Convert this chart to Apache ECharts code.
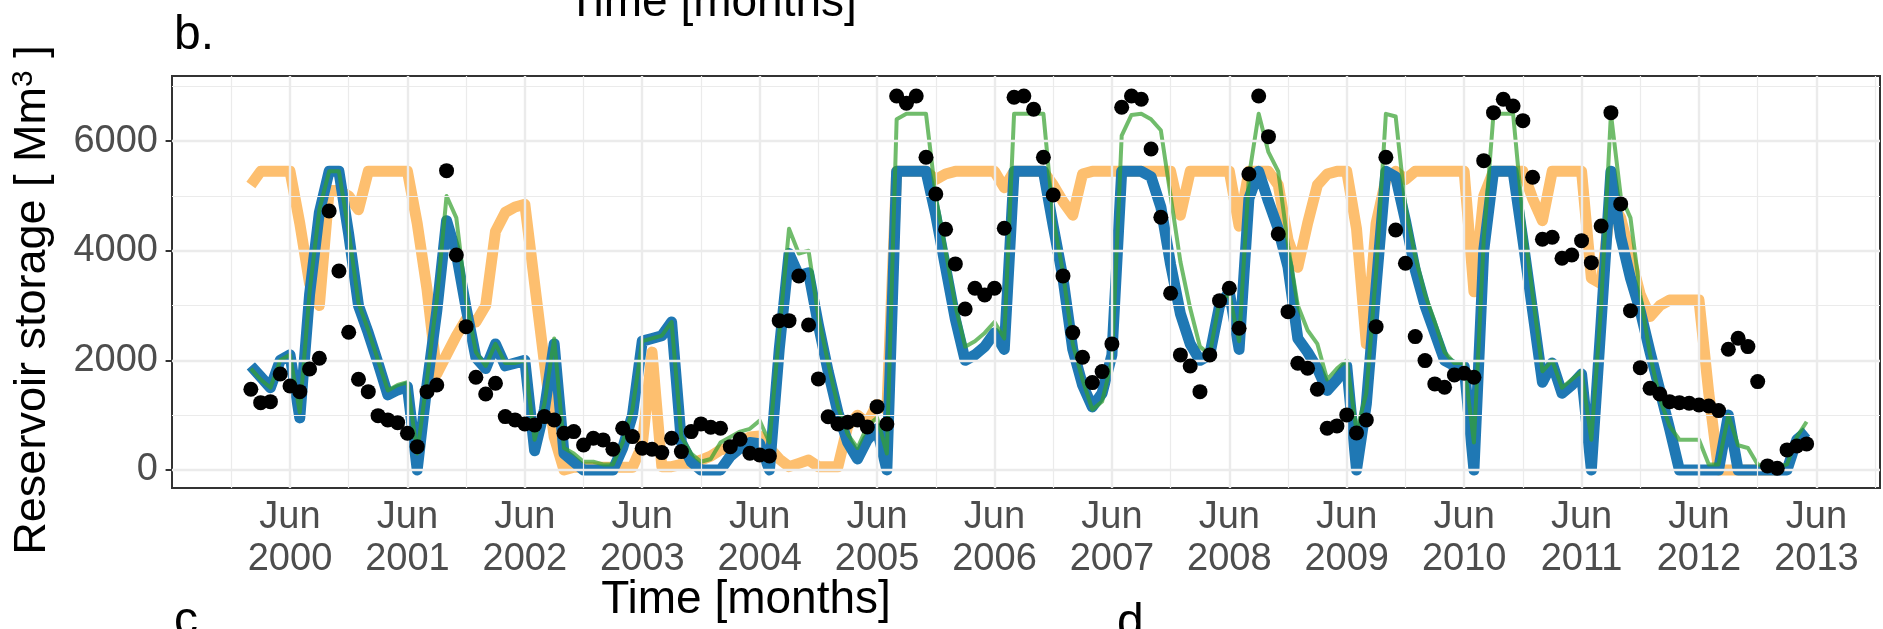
<!DOCTYPE html>
<html><head><meta charset="utf-8">
<script src="https://cdn.jsdelivr.net/npm/echarts@6/dist/echarts.min.js"></script>
<style>html,body{margin:0;padding:0;background:#fff}#c{width:1883px;height:629px}</style>
</head><body><div id="c"></div>
<script>
// first month of every series: Feb 2000
const startYear = 2000, startMonth = 2;

// observed storage (black points), Feb 2000 .. May 2013
const observed = [
  1473,1228,1246,1752,1533,1429,1843,2038,4727,3632,2513,
  1655,1429,991,913,863,670,425,1429,1551,5462,3924,2615,
  1692,1387,1582,973,913,840,821,973,913,670,699,456,
  578,548,378,761,608,396,378,316,578,334,699,840,
  779,761,425,560,304,274,255,2725,2725,3540,2646,1661,
  970,840,870,913,785,1155,837,6826,6692,6826,5707,5037,
  4393,3760,2938,3316,3194,3316,4411,6801,6826,6583,5707,5019,
  3541,2506,2057,1594,1795,2300,6619,6826,6765,5858,4612,3225,
  2099,1898,1429,2099,3090,3316,2586,5402,6826,6083,4307,2889,
  1947,1856,1472,761,803,1004,676,913,2615,5707,4380,3772,
  2433,1995,1570,1509,1734,1764,1692,5645,6521,6765,6643,6375,
  5341,4210,4247,3863,3924,4185,3783,4453,6521,4855,2907,1867,
  1491,1387,1246,1228,1217,1186,1168,1083,2203,2403,2251,1612,
  73,31,365,438,475
];

// blue simulation
const simBlue = [
  1900,1700,1500,2000,2100,950,3200,4700,5450,5450,4300,
  3000,2500,1950,1370,1460,1520,0,1550,2900,4550,3950,2950,
  2050,1850,2300,1900,1950,2000,350,1100,2300,300,150,0,
  0,0,0,400,1000,2350,2400,2450,2700,500,150,0,
  0,0,250,400,500,480,0,2200,3950,3550,3600,2650,
  1800,1050,500,200,550,750,0,5450,5450,5450,5450,4650,
  3700,2750,2000,2100,2250,2500,2200,5450,5450,5450,5450,4450,
  3500,2200,1550,1150,1400,2100,5450,5450,5450,5350,4800,3750,
  2850,2300,2000,2100,3000,3250,2200,4950,5450,4900,4400,3700,
  2400,2150,1850,1450,1650,1900,0,1200,3350,5450,5350,4550,
  3650,3000,2500,2000,1900,1890,0,4000,5450,5450,5450,4200,
  2900,1600,1950,1400,1550,1750,0,2700,5450,4250,3500,2900,
  2150,1450,750,0,0,0,0,0,1000,0,0,0,
  0,0,0,550,700
];

// green simulation
const simGreen = [
  1850,1650,1500,2000,2100,1050,3250,4750,5450,5450,4350,
  3050,2550,2000,1450,1550,1600,300,1650,3100,5000,4600,3100,
  2150,1900,2300,1950,1950,2000,550,1200,2400,400,300,150,
  150,100,100,500,1100,2350,2400,2450,2700,600,300,150,
  200,500,600,700,750,900,500,2500,4400,3950,4000,2800,
  1950,1150,650,400,800,950,300,6400,6500,6500,6500,5000,
  4000,3000,2250,2350,2500,2700,2400,6500,6500,6500,6500,4600,
  3600,2300,1650,1100,1250,2000,6100,6480,6500,6400,6200,5000,
  3800,2950,2250,2100,3100,3200,2350,5350,6500,5800,5450,4100,
  3000,2550,2300,1650,1850,2000,700,1400,3600,6500,6450,4800,
  3900,3200,2700,2150,1950,1950,500,4200,6500,6500,6500,4600,
  3200,1800,2000,1500,1650,1800,550,3000,6500,5000,4600,3200,
  2100,1300,800,550,550,550,100,100,1000,450,400,100,
  50,50,100,600,880
];

// orange simulation (ends Feb 2013)
const simOrange = [
  5200,5450,5450,5450,5450,4500,3400,3000,5100,5100,5000,
  4750,5450,5450,5450,5450,5450,4500,3300,1750,2100,2450,2750,
  2700,3000,4350,4700,4800,4850,3400,1950,600,0,50,50,
  50,50,50,50,50,450,2150,60,60,100,120,180,
  250,365,400,520,600,620,400,200,60,120,180,60,
  60,60,800,1000,850,1200,1100,5450,5450,5450,5450,5300,
  5400,5450,5450,5450,5450,5450,5150,5450,5450,5450,5450,5200,
  4900,4650,5400,5450,5450,5450,5450,5450,5450,5450,5450,5450,
  4650,5450,5450,5450,5450,5450,4450,5450,5450,5450,5200,4200,
  3700,4500,5200,5400,5450,5450,4400,2300,4500,5300,5450,5300,
  5450,5450,5450,5450,5450,5450,3250,5000,5450,5450,5450,5450,
  4950,4550,5450,5450,5450,5450,3500,3400,4900,4600,3900,3200,
  2800,3000,3100,3100,3100,3100,1400,0,0,0,0,0,
  0,0
];

// axis ticks
const xTickYears = [2000,2001,2002,2003,2004,2005,2006,2007,2008,2009,2010,2011,2012,2013];
const yTicks = [0, 2000, 4000, 6000];
const yMinorTicks = [1000, 3000, 5000, 7000];

// month position: months since Jun 1999
const monthPos = i => (startYear - 1999) * 12 + (startMonth - 6) + i;
const toPts = arr => arr.map((v, i) => [monthPos(i), v]);
const yearPos = y => (y - 1999) * 12;
const xMajor = xTickYears.map(yearPos);
const xMinor = xTickYears.map(y => yearPos(y) - 6).concat([yearPos(2013) + 6]);

const FONT = 'Liberation Sans, Arial, Helvetica, sans-serif';
const gridCol = '#ebebeb';

const chart = echarts.init(document.getElementById('c'));
chart.setOption({
  animation: false,
  backgroundColor: '#ffffff',
  grid: { left: 172, right: 3, top: 76, bottom: 141, show: true, borderColor: '#333333', borderWidth: 2, backgroundColor: 'transparent' },
  xAxis: [{
    type: 'value', min: -0.06, max: 174.5,
    axisLine: { show: false },
    splitLine: { show: false },
    axisTick: { show: true, customValues: xMajor, length: 7, lineStyle: { color: '#333333', width: 2 } },
    axisLabel: {
      show: true, customValues: xMajor, margin: 9,
      formatter: v => 'Jun\n' + (1999 + Math.round(v / 12)),
      color: '#4d4d4d', fontSize: 38, lineHeight: 42, fontFamily: FONT
    }
  }],
  yAxis: [{
    type: 'value', min: -330, max: 7190,
    axisLine: { show: false },
    splitLine: { show: false },
    axisTick: { show: true, customValues: yTicks, length: 7, lineStyle: { color: '#333333', width: 2 } },
    axisLabel: { show: true, customValues: yTicks, margin: 14, color: '#4d4d4d', fontSize: 38, fontFamily: FONT,
      formatter: v => String(Math.round(v)) }
  }],
  graphic: [
    { type: 'text', left: 174, top: 12, style: { text: 'b.', font: '48px ' + FONT, fill: '#000' } },
    { type: 'text', x: 712, y: 3, style: { text: 'Time [months]', font: '46px ' + FONT, fill: '#000', align: 'center', verticalAlign: 'middle' } },
    { type: 'text', x: 746, y: 600, style: { text: 'Time [months]', font: '46px ' + FONT, fill: '#000', align: 'center', verticalAlign: 'middle' } },
    { type: 'text', x: 174, y: 622, style: { text: 'c.', font: '48px ' + FONT, fill: '#000', align: 'left', verticalAlign: 'middle' } },
    { type: 'text', x: 1117, y: 624, style: { text: 'd.', font: '48px ' + FONT, fill: '#000', align: 'left', verticalAlign: 'middle' } },
    { type: 'text', x: 33, y: 300, rotation: Math.PI / 2,
      style: { text: 'Reservoir storage [ Mm{sup|3} ]', font: '45px ' + FONT, fill: '#000', align: 'center', verticalAlign: 'middle',
        rich: { sup: { fontSize: 30, fontFamily: FONT, verticalAlign: 'top', padding: [0, 0, 18, 0] } } } }
  ],
  series: [
    { type: 'line', name: 'grid', data: [], z: 0, silent: true,
      markLine: { silent: true, symbol: ['none', 'none'], label: { show: false }, animation: false,
        lineStyle: { type: 'solid', color: gridCol, width: 1.2 },
        data: yMinorTicks.map(v => ({ yAxis: v })).concat(xMinor.map(v => ({ xAxis: v }))) } },
    { type: 'line', name: 'grid2', data: [], z: 0, silent: true,
      markLine: { silent: true, symbol: ['none', 'none'], label: { show: false }, animation: false,
        lineStyle: { type: 'solid', color: gridCol, width: 2.4 },
        data: yTicks.map(v => ({ yAxis: v })).concat(xMajor.map(v => ({ xAxis: v }))) } },
    { type: 'line', name: 'orange', data: toPts(simOrange), showSymbol: false, z: 2,
      lineStyle: { color: '#fdbf6f', width: 11, cap: 'butt', join: 'round' } },
    { type: 'line', name: 'blue', data: toPts(simBlue), showSymbol: false, z: 3,
      lineStyle: { color: '#1f78b4', width: 11, cap: 'butt', join: 'round' } },
    { type: 'line', name: 'green', data: toPts(simGreen), showSymbol: false, z: 4,
      lineStyle: { color: 'rgba(51,160,44,0.7)', width: 4, cap: 'butt', join: 'round' } },
    { type: 'scatter', name: 'observed', data: toPts(observed), z: 5, symbolSize: 15,
      itemStyle: { color: '#000000', opacity: 1 } }
  ]
});
</script></body></html>
